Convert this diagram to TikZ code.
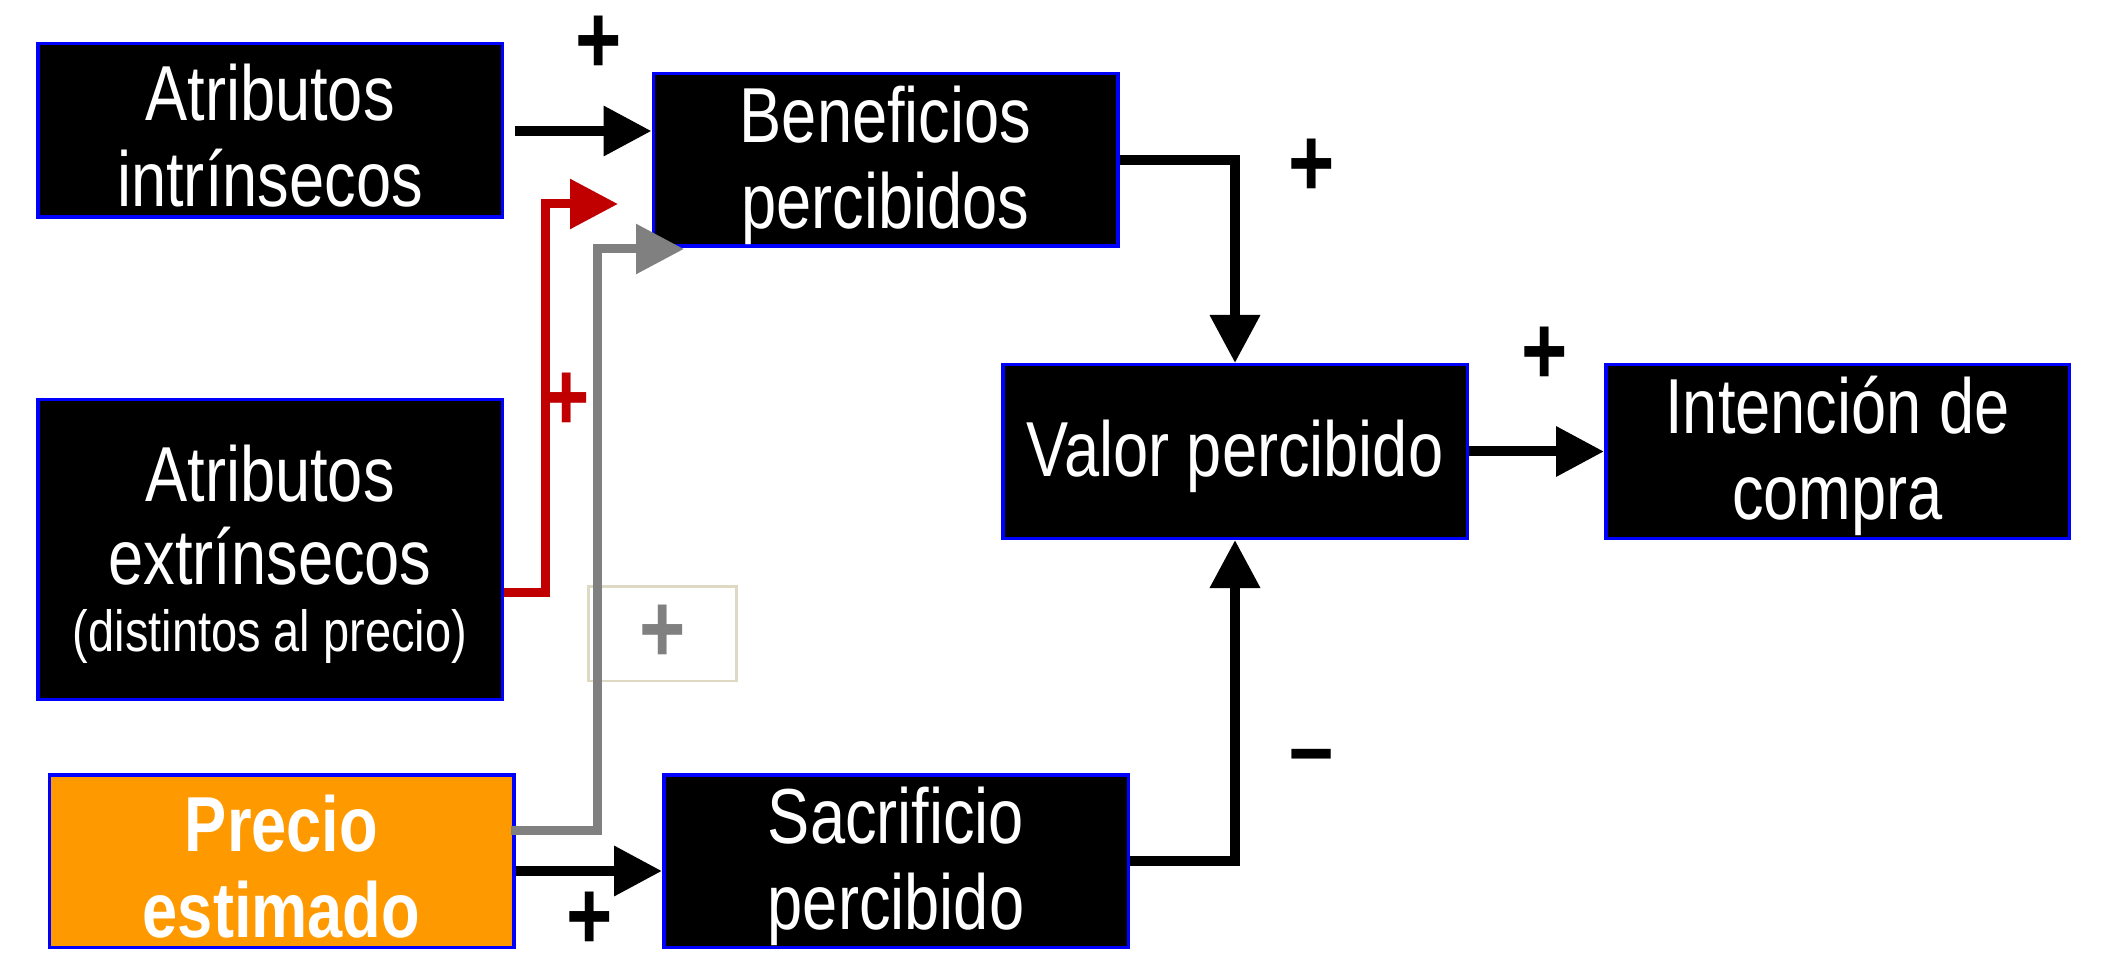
\documentclass[tikz,border=0pt]{standalone}
\usepackage{fontspec}
\setmainfont{Liberation Sans}[FakeStretch=0.81]
\usetikzlibrary{arrows.meta,calc}
\definecolor{boxblue}{HTML}{0000FF}
\definecolor{orng}{HTML}{FF9900}
\definecolor{darkred}{HTML}{C00000}
\definecolor{midgrey}{HTML}{808080}
\definecolor{beige}{HTML}{DDD9C3}
\newcommand{\firststrut}{\rule{0pt}{67pt}}
\begin{document}
\begin{tikzpicture}[x=1pt,y=-1pt,
  box/.style={draw=boxblue, line width=3.5pt, fill=black, text=white, align=center,
    inner sep=0pt, font=\fontsize{78}{86}\selectfont},
  twoline/.style={box, minimum width=464.5pt, minimum height=172.5pt},
  arr/.style={line width=10pt, line join=miter, -{Triangle[length=48pt,width=48pt]}},
  redarr/.style={arr, draw=darkred, line width=9pt, -{Triangle[length=48pt,width=48pt]}},
  greyarr/.style={arr, draw=midgrey, line width=9pt, -{Triangle[length=48pt,width=48pt]}},
  sign/.style={inner sep=0pt, font=\fontsize{98}{98}\selectfont\bfseries},
  signbox/.style={draw=beige, line width=2.5pt, minimum width=148pt, minimum height=94.5pt,
    inner sep=0pt, text=midgrey, font=\fontsize{98}{98}\selectfont\bfseries}
]
\useasboundingbox (0,0) rectangle (2105,973);
\fill[white] (0,0) rectangle (2105,973);

% boxes
\node[twoline, minimum height=173.5pt] (b1) at (270,130.5) {\firststrut Atributos\\intrínsecos};
\node[twoline] (ben) at (885.5,160) {\firststrut Beneficios\\percibidos};
\node[box, minimum width=464.5pt, minimum height=299.5pt] (ext) at (270,549.5)
  {\firststrut Atributos\\[-3pt]extrínsecos\\[-19pt]{\fontsize{58}{67}\selectfont(distintos al precio)}};
\node[twoline, fill=orng, font=\fontsize{78}{86}\selectfont\bfseries] (pre) at (281.5,861) {\firststrut Precio\\estimado};
\node[twoline] (sac) at (896,861) {\firststrut Sacrificio\\percibido};
\node[twoline, minimum height=173.5pt] (val) at (1235,451.5) {\firststrut Valor percibido};
\node[twoline, minimum height=173.5pt, minimum width=463.5pt] (int) at (1837.5,451.5) {\firststrut Intención de\\compra};

% plus box
\node[signbox] (gb) at (662.5,633.5) {+};

% helper coordinates
\coordinate (redcorner) at (545,204);
\coordinate (redtip) at (618,204);
\coordinate (greycorner) at (597,249);
\coordinate (greytip) at (684,249);
\coordinate (p1) at ($(pre.east)+(0,10)$);
\coordinate (b1out) at (515,131);

% connectors
\draw[arr] (b1out) -- (b1out -| ben.west);
\draw[redarr] ($(ext.east)+(0,42.5)$) -| (redcorner) -- (redtip);
\draw[greyarr] ($(pre.east)+(-5,-31)$) -| (greycorner) -- (greytip);
\draw[arr] (p1) -- (p1 -| sac.west);
\draw[arr] (ben.east) -| (val.north);
\draw[arr] (sac.east) -| (val.south);
\draw[arr] (val.east) -- (int.west);

% signs
\node[sign] (s1) at (599,45) {+};
\node[sign] (s2) at (1312,168) {+};
\node[sign] (s3) at (1545,356) {+};
\node[sign] (s4) at (590,921) {+};
\node[sign, text=darkred] (s5) at (567,402) {+};
\node[sign] (s6) at (1312,765) {–};
\end{tikzpicture}
\end{document}
